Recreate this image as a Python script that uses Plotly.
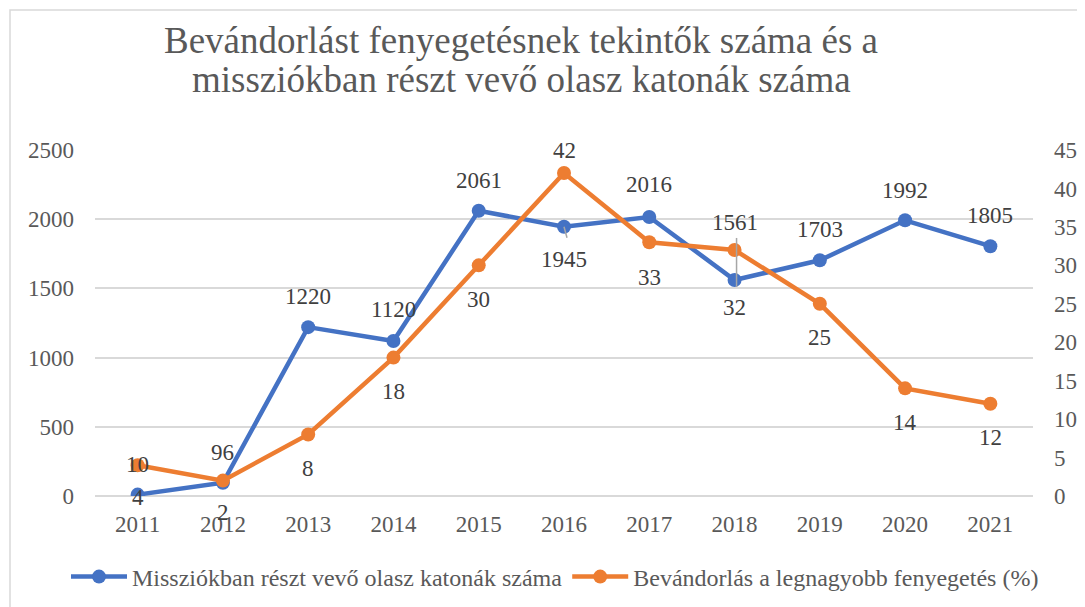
import plotly.graph_objects as go

years = [2011, 2012, 2013, 2014, 2015, 2016, 2017, 2018, 2019, 2020, 2021]
soldiers = [10, 96, 1220, 1120, 2061, 1945, 2016, 1561, 1703, 1992, 1805]
threat_pct = [4, 2, 8, 18, 30, 42, 33, 32, 25, 14, 12]

name_soldiers = "Missziókban részt vevő olasz katonák száma"
name_threat = "Bevándorlás a legnagyobb fenyegetés (%)"
title_lines = ["Bevándorlást fenyegetésnek tekintők száma és a",
               "missziókban részt vevő olasz katonák száma"]

y_left_ticks = [0, 500, 1000, 1500, 2000, 2500]
y_right_ticks = [0, 5, 10, 15, 20, 25, 30, 35, 40, 45]

# label vertical pixel shifts (style only)
soldiers_label_shift = [30, 30, 31, 31, 30, -33, 32, 57, 31, 30, 31]
threat_label_shift = [-32, -32, -34, -34, -34, 23, -35, -58, -34, -34, -34]

BLUE = "#4472C4"
ORANGE = "#ED7D31"
FONT = "Liberation Serif"
OFF = 8  # page body margin
W, H = 1085 - OFF, 607 - OFF
# plot area in screenshot pixels: x 95..1033, y 150..496
ML, MT = 95 - OFF, 150 - OFF
MR = W - (1033 - OFF)
MB = H - (496 - OFF)
PW, PH = W - ML - MR, H - MT - MB


def px(x):
    return (x - OFF - ML) / PW


def py(y):
    return (MT + PH - (y - OFF)) / PH


fig = go.Figure()
fig.add_trace(go.Scatter(x=years, y=soldiers, name=name_soldiers, mode="lines+markers",
                         line=dict(color=BLUE, width=4.5), marker=dict(size=14, color=BLUE),
                         yaxis="y"))
fig.add_trace(go.Scatter(x=years, y=threat_pct, name=name_threat, mode="lines+markers",
                         line=dict(color=ORANGE, width=4.5), marker=dict(size=14, color=ORANGE),
                         yaxis="y2"))

ann = []
for x, v, s in zip(years, soldiers, soldiers_label_shift):
    ann.append(dict(x=x, y=v, xref="x", yref="y", text=str(v), showarrow=False,
                    yshift=s, font=dict(family=FONT, size=23, color="#404040")))
for x, v, s in zip(years, threat_pct, threat_label_shift):
    ann.append(dict(x=x, y=v, xref="x", yref="y2", text=str(v), showarrow=False,
                    yshift=s, font=dict(family=FONT, size=23, color="#404040")))
for line, yy in zip(title_lines, [40, 80]):
    ann.append(dict(x=px(521), y=py(yy), xref="paper", yref="paper", text=line,
                    showarrow=False, xanchor="center", yanchor="middle",
                    font=dict(family=FONT, size=37, color="#595959")))

shapes = [
    # chart border (only top and left visible)
    dict(type="rect", xref="paper", yref="paper",
         x0=px(10), x1=px(1110), y0=py(640), y1=py(10),
         line=dict(color="#D9D9D9", width=1.5), layer="below"),
    # leader lines
    dict(type="line", xref="x", yref="y", xsizemode="pixel", ysizemode="pixel",
         xanchor=years[5], yanchor=soldiers[5], x0=0, x1=3, y0=0, y1=-11,
         line=dict(color="#A6A6A6", width=1.5)),
    dict(type="line", xref="x", yref="y", xsizemode="pixel", ysizemode="pixel",
         xanchor=years[7], yanchor=soldiers[7], x0=2, x1=2, y0=42, y1=-7,
         line=dict(color="#A6A6A6", width=1.5)),
]

fig.update_layout(
    width=W, height=H,
    margin=dict(l=ML, r=MR, t=MT, b=MB, autoexpand=False),
    paper_bgcolor="white", plot_bgcolor="white",
    font=dict(family=FONT, size=23, color="#595959"),
    xaxis=dict(range=[years[0] - 0.5, years[-1] + 0.5], tickvals=years, showgrid=False,
               showline=False, zeroline=False, ticks="", ticklabelstandoff=12,
               tickfont=dict(size=23, color="#595959")),
    yaxis=dict(range=[0, 2500], tickvals=y_left_ticks, showgrid=True, gridcolor="#D9D9D9",
               gridwidth=1.5, zeroline=True, zerolinecolor="#D9D9D9", zerolinewidth=1.5,
               showline=False, ticks="", ticklabelstandoff=20,
               tickfont=dict(size=23, color="#595959")),
    yaxis2=dict(range=[0, 45], tickvals=y_right_ticks, overlaying="y", side="right",
                showgrid=False, zeroline=False, showline=False, ticks="",
                ticklabelstandoff=20, tickfont=dict(size=23, color="#595959")),
    legend=dict(orientation="h", xref="paper", yref="paper",
                x=px(66), xanchor="left",
                y=py(577), yanchor="middle",
                font=dict(family=FONT, size=24, color="#595959"),
                itemwidth=56, tracegroupgap=0),
    annotations=ann,
    shapes=shapes,
    showlegend=True,
)

fig.write_html("out.html")
